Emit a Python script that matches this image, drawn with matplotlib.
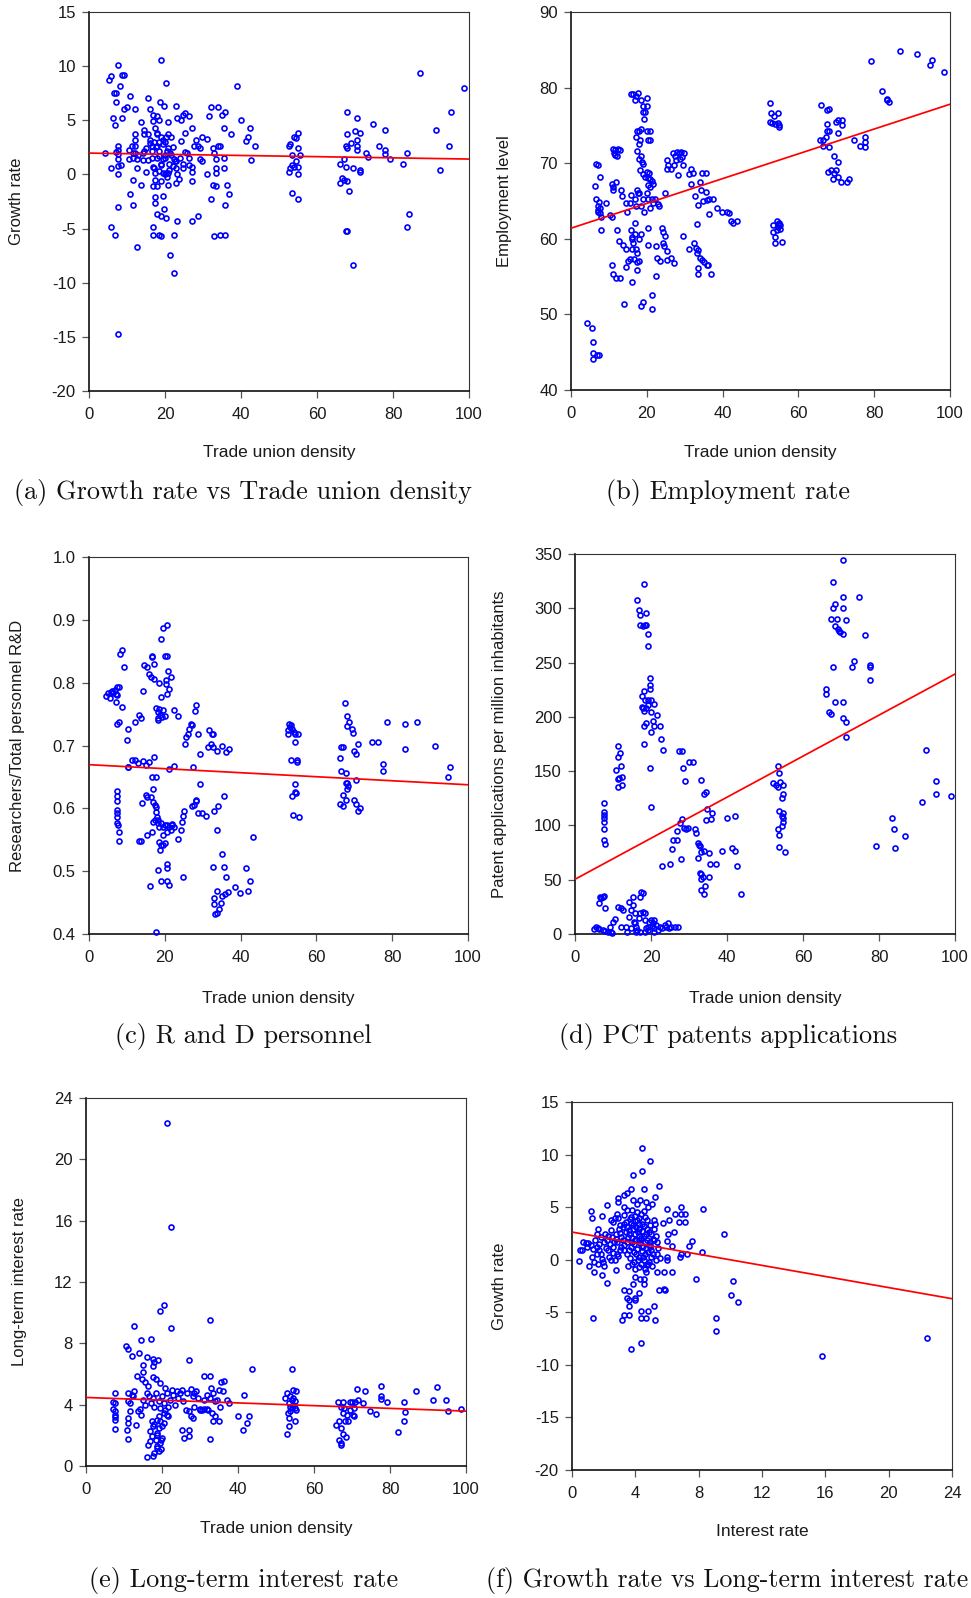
import numpy as np
import matplotlib
matplotlib.use("Agg")
import matplotlib.pyplot as plt

plt.rcParams['font.family'] = ['Liberation Sans', 'DejaVu Sans']
plt.rcParams['axes.unicode_minus'] = False

# ---------------- data ----------------
pts_a = [
(4.3,1.94),(5.2,8.7),(5.9,9.1),(7.7,10.1),(8.6,9.2),(9.2,9.2),(8.2,8.2),(6.5,7.5),(7.1,7.5),(7.1,6.7),(6.3,5.2),(6.8,4.6),(8.7,5.2),(9.1,6.0),(10.1,6.2),(10.7,7.2),(12.1,6.0),(5.8,0.6),(7.6,2.6),(7.6,2.3),(7.2,2.1),(7.7,1.9),(7.7,1.4),(7.7,0.06),(8.3,0.9),(7.6,0.8),(7.7,-3.0),(5.8,-4.9),(6.8,-5.6),(7.7,-14.7),(10.7,-1.8),(11.6,-0.5),(11.6,-2.8),(12.6,-6.7),(13.6,-1.0),
(10.6,1.4),(11.2,2.6),(11.6,2.0),(12.1,3.7),(12.1,3.2),(12.1,2.6),(12.6,0.6),(12.6,1.4),(13.6,4.8),(14.1,1.3),(14.1,2.0),(14.4,4.1),(14.4,3.7),(15.0,0.2),(15.5,7.1),(16.0,6.0),(15.0,2.4),(15.5,3.7),(16.0,3.2),(16.5,2.6),(16.9,5.5),(16.9,4.9),(17.3,4.3),(17.9,5.4),(17.9,3.7),(18.4,5.0),(18.9,10.6),(18.8,6.7),(19.8,6.3),(20.3,8.4),(20.9,4.8),(20.9,3.7),(21.7,3.5),(16.5,1.5),(16.9,0.7),(17.3,0.1),(17.4,-0.5),(16.9,-1.1),(17.9,-1.1),(17.4,-2.1),(17.4,-2.6),(19.4,-2.0),(17.9,-3.7),(18.9,-3.8),(19.8,-3.2),(20.3,-4.0),(16.9,-4.9),(16.9,-5.6),(18.4,-5.6),(18.9,-5.7),(22.3,-5.6),(21.3,-7.4),(22.3,-9.1),(23.2,-4.3),(27.2,-4.3),(28.7,-3.8),
(18.9,-0.6),(19.4,0.1),(19.9,0.0),(20.3,0.1),(20.9,0.1),(20.9,-1.0),(22.8,-0.8),(23.2,0.0),(23.8,-0.4),(22.8,0.6),(22.3,1.4),(21.3,2.0),(20.9,2.4),(19.9,1.8),(19.4,1.4),(18.4,1.7),(18.9,0.9),(17.9,2.6),(18.4,3.0),(19.4,3.2),(20.3,3.5),(22.8,6.3),(23.2,5.2),(24.1,5.0),(24.7,5.5),(25.2,5.7),(26.2,5.4),(27.2,4.3),(25.2,3.8),(24.1,3.1),(25.2,2.1),(25.7,2.0),(24.7,1.0),(24.7,0.6),(26.2,1.5),(26.2,0.9),(27.2,0.7),(27.2,0.2),(27.2,-0.6),(27.6,2.6),(28.2,3.2),(28.7,2.6),(29.1,2.4),(29.7,3.5),(29.2,1.4),(29.7,1.2),(31.0,3.3),(31.0,0.06),(31.5,5.4),(32.0,6.2),(32.5,2.4),(32.5,-1.0),(32.0,-2.3),(33.0,-5.7),(34.4,-5.6),(35.9,-5.6),(33.5,-1.1),(33.0,2.0),(33.5,1.4),(33.5,0.6),(33.5,0.1),(34.0,2.6),(34.4,2.6),(34.0,6.2),(35.0,5.5),(35.9,5.8),(35.4,4.3),(35.4,1.5),(35.5,0.6),(35.9,-2.8),(36.4,-1.0),(36.9,-1.8),(37.3,3.7),(38.9,8.2),(39.9,5.0),(41.3,3.1),(41.8,3.5),(42.3,4.3),(42.7,1.3),(43.8,2.6),
(52.5,0.2),(53.0,2.8),(52.7,2.6),(53.4,1.8),(53.4,0.9),(53.4,-1.7),(53.9,3.5),(54.4,3.4),(54.9,3.8),(54.9,2.4),(54.5,1.2),(54.9,0.7),(54.9,0.06),(54.9,-2.3),(55.5,1.8),(54.0,0.7),(53.0,0.6),
(66.0,1.0),(66.0,-0.8),(66.5,-0.3),(67.1,1.4),(67.5,2.6),(67.5,0.7),(67.1,-0.5),(68.0,-0.6),(68.0,3.7),(68.0,2.4),(68.0,5.8),(68.5,-1.5),(67.5,-5.2),(68.0,-5.2),(69.5,-8.4),(68.9,2.9),(69.5,0.6),(69.9,4.0),(70.4,5.2),(70.4,3.2),(70.4,2.6),(70.6,2.3),(71.4,3.8),(71.4,0.4),(71.4,0.2),
(72.9,2.0),(73.3,1.6),(74.8,4.7),(76.3,2.6),(77.8,4.1),(77.8,2.3),(77.8,1.9),(79.2,1.4),(82.7,1.0),(83.6,2.0),(83.6,-4.9),(84.1,-3.7),(87.0,9.4),(91.4,4.1),(92.4,0.4),(94.8,2.6),(95.2,5.8),(98.7,8.0),
(16.0,2.9),(16.5,2.2),(17.0,3.0),(17.5,2.5),(18.0,1.5),(18.5,2.2),(19.0,1.0),(19.5,2.8),(20.0,1.5),(20.5,2.2),(21.0,1.0),(21.5,1.8),(22.0,2.5),(22.5,1.2),(18.0,3.8),(19.0,3.5),(20.0,3.0),(15.5,1.3),(14.5,2.2),(13.0,1.8),(11.5,1.5),(10.5,2.3),(12.0,2.0),(21.0,0.4),(22.0,0.8),(23.0,1.2),(24.0,1.5),(17.0,0.6),(18.5,0.3),(20.5,-0.2)]

pts_b = [
(4.3,48.8),(5.5,48.2),(5.9,46.3),(5.9,44.9),(5.9,44.1),(6.8,44.6),(7.5,44.6),
(6.3,67.0),(6.6,69.9),(7.2,69.7),(7.7,68.2),(6.7,65.3),(7.3,64.9),(7.2,64.3),(7.7,64.1),(7.1,63.8),(7.7,63.4),(7.2,63.6),(8.0,62.9),(7.8,61.1),(9.3,64.8),
(10.3,63.2),(10.7,62.9),(10.8,67.3),(11.2,66.5),(11.2,66.8),(11.8,67.5),(11.1,71.9),(11.7,71.8),(12.3,71.9),(12.8,71.8),(11.5,71.1),(12.1,71.0),(11.4,71.3),
(10.7,56.5),(11.2,55.3),(12.0,54.8),(12.8,54.8),(12.2,61.1),(12.7,59.7),(13.6,59.2),(13.1,66.5),(13.5,65.6),(14.1,51.4),(14.5,56.3),(14.5,58.7),(14.7,63.6),(14.4,64.7),(15.6,64.7),(15.7,65.8),(15.1,57.0),(15.6,57.3),(15.7,61.1),(16.1,60.2),(16.1,58.7),(16.1,54.3),(16.4,59.4),(16.5,57.3),(16.1,60.0),(17.0,60.7),(17.0,62.1),(17.2,58.7),(17.5,58.1),(17.5,56.9),(17.5,55.9),(18.0,57.0),(17.2,64.3),(17.0,65.3),(17.5,66.5),(18.0,66.1),(17.9,60.0),(18.6,60.6),(19.0,51.7),(18.5,51.1),(21.4,50.7),(21.5,52.6),(22.3,55.1),(22.3,59.0),(22.8,57.5),(23.5,57.0),(20.4,61.4),(20.4,59.2),
(15.8,79.1),(16.4,79.1),(17.1,78.9),(17.7,79.3),(17.0,78.4),(18.6,78.4),(20.0,78.6),(19.0,77.6),(20.0,77.6),(19.0,76.8),(19.5,76.8),(19.3,75.9),
(17.5,74.3),(18.0,74.2),(18.6,74.5),(20.0,74.3),(20.9,74.3),(17.2,73.5),(17.9,72.6),(18.1,73.1),(20.4,73.1),(20.9,73.1),(17.5,71.6),(17.9,70.5),(18.6,70.9),(18.8,70.2),(19.1,69.9),
(18.2,69.1),(18.9,68.6),(19.5,68.2),(20.0,68.9),(20.7,68.7),(20.2,68.0),(20.9,67.9),(21.3,67.6),(21.6,67.3),(20.2,67.1),(20.9,66.9),(19.1,65.3),(20.0,66.1),(20.4,65.2),(21.4,65.3),(21.7,64.7),(22.2,65.2),(22.9,64.6),(23.1,64.3),(18.6,64.3),(17.8,66.0),(19.3,63.6),(20.9,64.1),
(24.8,66.0),(25.3,70.4),(25.7,69.7),(25.2,69.2),(26.3,69.2),(27.2,69.7),(28.2,68.5),(27.0,71.3),(27.5,70.9),(27.9,71.5),(28.5,71.4),(29.0,71.5),(29.8,71.3),(27.7,70.4),(28.8,70.5),(29.6,69.7),(29.3,70.8),
(23.9,61.4),(24.4,60.9),(24.8,60.4),(24.2,59.4),(24.5,59.0),(25.2,58.4),(26.3,57.4),(27.3,56.8),(25.2,57.2),(29.6,60.4),
(31.1,68.6),(31.6,69.2),(32.1,68.7),(31.7,67.2),(32.7,65.7),(33.6,64.5),(33.2,61.9),(34.0,67.5),(34.6,68.7),(35.6,68.7),(34.4,66.5),(35.6,66.2),(34.9,65.0),(36.0,65.1),(36.5,65.3),(36.5,63.3),(37.5,65.3),
(31.1,58.7),(32.5,59.4),(33.0,58.8),(33.6,58.5),(33.2,58.1),(34.0,57.5),(34.6,57.2),(35.2,56.9),(35.8,56.5),(36.2,56.5),(33.6,56.1),(33.6,55.3),(37.0,55.3),
(38.4,64.1),(39.8,63.6),(41.1,63.6),(41.8,63.4),(42.2,62.4),(42.8,62.1),(43.8,62.4),
(52.4,77.9),(52.9,76.7),(54.5,76.7),(53.5,76.2),(52.6,75.5),(53.0,75.3),(53.7,75.2),(54.7,75.3),(55.0,75.1),(55.0,74.8),
(53.4,61.8),(54.3,62.3),(54.7,62.0),(55.1,61.8),(53.4,60.9),(54.3,61.1),(55.1,61.3),(53.8,60.2),(53.8,59.4),(55.6,59.6),(54.7,61.6),(55.0,62.1),
(66.0,77.7),(67.5,77.0),(68.1,77.2),(67.5,75.2),(67.5,74.2),(68.1,74.3),(65.7,73.1),(66.6,73.1),(66.4,72.3),(67.2,73.5),(68.1,72.1),(69.4,70.9),(70.4,70.1),(67.8,68.9),(68.5,69.1),(69.0,67.9),(69.9,69.1),(69.5,68.7),(70.4,68.2),(71.3,67.5),(72.7,67.5),(73.4,67.9),(69.9,75.5),(70.4,75.7),(71.4,75.7),(71.4,75.0),(70.4,74.0),
(74.8,73.1),(76.3,72.3),(77.7,73.5),(77.7,72.8),(77.7,72.1),(79.2,83.5),(82.1,79.6),(83.5,78.5),(83.8,78.1),(83.5,78.3),(86.9,84.9),(91.3,84.4),(94.7,83.0),(95.2,83.7),(98.5,82.0)]

pts_c = [
(4.4,0.779),(5.1,0.784),(5.7,0.785),(5.5,0.776),(6.2,0.786),(6.4,0.784),(7.0,0.782),(7.5,0.781),(6.9,0.788),(7.8,0.793),(7.3,0.793),
(7.2,0.770),(8.8,0.761),(7.5,0.735),(7.9,0.738),(8.3,0.845),(8.8,0.852),(9.3,0.825),(10.4,0.726),(9.9,0.709),(10.3,0.665),
(7.4,0.627),(7.4,0.619),(7.4,0.611),(7.4,0.597),(7.4,0.592),(7.4,0.587),(7.4,0.576),(7.6,0.574),(7.9,0.563),(7.9,0.548),
(11.3,0.677),(12.2,0.677),(12.8,0.672),(14.3,0.675),(15.0,0.669),(15.7,0.673),(17.1,0.682),(10.2,0.665),
(12.2,0.738),(13.2,0.749),(13.8,0.743),(14.3,0.787),
(14.6,0.828),(15.3,0.825),(15.7,0.814),(16.3,0.809),(17.1,0.806),(16.7,0.841),(16.7,0.843),(17.1,0.830),(18.5,0.799),(19.0,0.777),(19.0,0.869),(19.6,0.887),(20.6,0.892),(20.0,0.843),(20.7,0.843),(20.9,0.819),(21.6,0.809),(20.2,0.804),(21.1,0.790),(20.5,0.782),(20.3,0.798),
(17.6,0.760),(18.1,0.754),(18.1,0.743),(18.8,0.749),(19.4,0.756),(20.0,0.747),(18.5,0.758),(19.2,0.746),(18.3,0.741),(22.5,0.756),(23.5,0.747),
(16.6,0.650),(17.6,0.650),(17.0,0.630),(14.1,0.609),(15.0,0.621),(15.4,0.618),(16.3,0.618),(16.9,0.610),(17.4,0.606),(17.6,0.602),(17.6,0.594),(17.9,0.586),(17.4,0.582),(18.3,0.581),(18.1,0.576),(17.0,0.579),(18.5,0.571),(18.9,0.576),(19.4,0.571),(20.1,0.574),(20.7,0.574),(21.1,0.571),(21.8,0.575),(22.5,0.571),(21.6,0.566),(20.7,0.563),(19.6,0.558),(24.4,0.566),(24.5,0.579),(24.7,0.588),(25.0,0.595),(23.5,0.551),(21.9,0.573),
(13.2,0.548),(13.8,0.548),(15.2,0.558),(16.6,0.563),(18.5,0.547),(18.9,0.542),(18.7,0.534),(19.4,0.542),(20.0,0.545),
(16.1,0.476),(18.1,0.502),(19.0,0.485),(20.5,0.511),(20.5,0.505),(20.7,0.485),(21.1,0.478),(24.8,0.490),(17.6,0.403),
(22.5,0.668),(21.1,0.662),
(25.2,0.703),(25.6,0.714),(26.0,0.719),(26.4,0.727),(26.9,0.735),(27.3,0.732),(27.9,0.755),(28.3,0.764),(27.5,0.666),(28.8,0.718),(29.3,0.686),(29.3,0.639),(27.3,0.603),(28.2,0.613),(28.7,0.592),(29.7,0.592),(30.8,0.588),(27.8,0.605),(28.3,0.611),
(31.7,0.725),(32.8,0.718),(32.4,0.718),(31.3,0.697),(32.2,0.703),(32.8,0.698),(33.7,0.691),(35.0,0.700),(36.1,0.689),(37.0,0.694),(35.7,0.619),(34.0,0.604),(33.1,0.595),(33.7,0.566),
(35.1,0.528),(32.7,0.507),(35.5,0.507),(36.1,0.490),(33.7,0.469),(33.0,0.458),(33.0,0.447),(33.3,0.432),(33.9,0.433),(34.2,0.439),(34.7,0.449),(35.2,0.460),(35.8,0.463),(36.7,0.467),
(38.4,0.475),(39.9,0.466),(41.4,0.505),(41.9,0.469),(42.4,0.484),(43.3,0.554),
(52.4,0.724),(52.9,0.735),(53.0,0.730),(53.6,0.727),(54.0,0.722),(54.3,0.718),(55.1,0.718),(52.5,0.718),(53.3,0.733),(54.4,0.706),(53.4,0.677),(54.9,0.677),(55.0,0.673),(54.4,0.639),(53.6,0.619),(54.3,0.626),(54.6,0.624),(53.9,0.590),(55.5,0.587),
(67.6,0.767),(68.0,0.747),(68.5,0.737),(68.1,0.731),(69.4,0.727),(69.6,0.720),(66.1,0.680),(66.5,0.697),(67.1,0.697),(66.5,0.659),(67.7,0.657),(67.1,0.621),(66.1,0.607),(67.1,0.603),(67.7,0.641),(68.0,0.640),(68.3,0.635),(68.1,0.630),(67.9,0.613),(70.0,0.613),(70.5,0.607),(71.4,0.601),(71.0,0.595),(70.5,0.645),(69.8,0.692),(70.5,0.686),(71.0,0.703),
(74.7,0.706),(76.2,0.706),(77.7,0.671),(77.7,0.659),(78.7,0.738),(83.5,0.735),(83.5,0.694),(86.5,0.738),(91.3,0.700),(94.7,0.650),(95.2,0.665)]

pts_d = [
(5.1,4.6),(5.5,6.1),(6.0,5.2),(6.4,4.3),(7.3,3.7),(8.0,2.8),(8.6,1.8),(9.5,2.2),(9.8,1.2),(9.1,6.1),(9.9,11.4),(10.4,13.5),(11.4,25.2),(12.1,23.7),(12.6,22.1),(12.1,6.1),(13.5,6.1),(13.6,2.2),(14.1,29.8),(14.3,16.0),(14.8,22.1),(15.2,26.7),(15.2,34.4),(15.4,11.4),(15.9,19.1),(16.1,6.8),(16.4,3.7),(16.8,14.4),(17.2,19.1),(17.4,39.0),(17.9,37.5),(17.2,34.4),(18.3,19.7),(18.5,12.9),(18.7,5.2),(19.2,3.7),(19.6,11.4),(20.1,12.9),(20.5,9.8),(20.9,5.2),(21.4,8.3),(21.8,3.7),(22.3,6.8),(23.0,5.2),(23.6,8.3),(24.0,6.8),(24.5,9.8),(24.7,5.2),(25.3,6.1),(26.2,6.8),(27.1,6.8),(6.4,28.3),(6.9,32.9),(7.3,34.4),(7.7,35.3),(8.0,23.7),(20.7,12.9),(16.1,2.2),(17.0,2.2),(18.5,2.2),(20.9,2.2),(15.7,9.8),(14.8,5.2),(17.9,20.6),(19.3,6.8),(20.2,7.4),(6.6,34.4),
(7.5,120.5),(7.5,112.8),(7.5,109.7),(7.5,106.6),(7.5,103.6),(7.5,96.5),(7.5,86.7),(8.0,83.0),
(11.4,173.3),(11.3,162.6),(11.9,166.6),(12.0,154.3),(10.8,151.2),(11.3,142.6),(11.7,143.5),(12.4,144.4),(11.3,135.8),(12.4,137.4),
(16.3,307.3),(16.8,298.7),(17.2,293.5),(17.1,284.9),(17.9,283.4),(18.3,284.9),(18.7,284.9),(18.2,322.7),(18.7,295.7),(19.3,276.6),(19.3,264.9),
(19.7,236.0),(19.8,229.5),(19.8,225.6),(18.1,224.1),(17.7,218.8),(18.4,215.7),(19.2,215.7),(20.0,215.7),(17.8,208.6),(18.7,208.6),(20.0,204.9),(20.7,211.9),(21.6,201.9),(18.1,191.8),(18.7,194.2),(20.5,195.8),(20.7,191.2),(22.3,191.8),(20.1,186.5),(22.6,179.8),(23.1,169.6),(18.2,174.9),(19.7,152.7),(20.1,116.8),(17.5,209.2),(18.2,205.2),(19.2,211.3),
(23.0,62.7),(25.1,64.2),(25.6,78.1),(25.9,86.7),(26.9,86.7),(28.0,69.5),(26.9,95.0),(27.5,102.0),(28.1,105.7),(28.6,98.0),(29.1,97.0),(29.7,98.0),(27.4,168.1),(28.1,168.1),(28.4,152.7),(28.9,141.1),(29.9,158.0),(31.0,158.0),(31.5,96.8),(31.9,92.8),(32.4,69.8),(32.4,83.6),(32.6,82.1),(32.8,81.1),(33.2,75.9),(33.9,76.5),(35.3,75.0),(33.2,141.4),(33.9,129.1),(34.4,130.6),(34.8,115.2),(34.6,105.1),(35.7,105.7),(36.1,111.9),(32.8,56.5),(33.2,55.3),(33.7,52.9),(35.3,52.9),(33.2,50.4),(34.1,44.3),(33.2,40.6),(33.9,36.9),(35.4,64.2),(37.2,64.2),(38.7,76.5),(40.1,106.6),(41.2,79.6),(42.1,76.5),(42.1,108.8),(42.6,62.7),(43.6,36.9),
(53.3,154.3),(53.7,148.7),(52.2,138.9),(52.8,137.4),(53.3,135.8),(53.9,140.4),(54.8,137.4),(54.8,128.8),(54.4,125.1),(53.7,113.7),(54.8,111.9),(54.4,108.8),(54.8,106.6),(54.8,103.6),(54.4,99.6),(53.3,96.5),(53.7,91.3),(53.7,79.9),(55.2,75.9),
(70.4,344.8),(67.8,324.2),(70.4,310.7),(74.8,310.7),(67.8,300.2),(68.4,304.2),(70.4,300.6),(67.3,290.4),(68.9,290.4),(71.3,288.9),(68.4,283.3),(69.1,280.9),(69.5,279.4),(69.8,277.8),(70.4,276.6),(76.2,275.1),(67.8,246.2),(72.8,246.2),(73.4,251.1),(77.5,248.0),(77.5,245.9),(77.5,234.2),(66.0,225.6),(66.0,220.7),(68.4,213.9),(70.4,213.9),(66.8,204.1),(67.3,202.2),(70.4,198.5),(71.3,195.1),(71.3,181.6),
(79.2,81.1),(83.5,106.9),(83.9,96.8),(84.3,79.6),(86.9,90.0),(91.2,122.0),(92.3,169.6),(95.1,140.7),(95.1,128.8),(98.9,127.2)]

pts_e = [
(21.4,22.4),(22.3,15.6),(19.4,10.1),(20.4,10.5),(22.3,9.0),(32.5,9.5),(12.6,9.1),(14.6,8.2),(17.0,8.3),(10.6,7.8),(11.1,7.6),(12.1,7.2),(14.0,7.4),(16.1,7.1),(17.5,7.0),(19.0,6.9),(18.0,6.8),(17.5,6.5),(15.1,6.6),(27.2,6.9),(13.5,5.9),(15.1,6.1),(14.7,5.7),(17.5,5.8),(18.4,5.7),(15.5,5.5),(19.5,5.4),(31.1,5.9),(32.5,5.9),(43.7,6.3),(54.3,6.3),
(7.7,4.75),(7.0,4.17),(7.7,4.10),(7.0,3.73),(7.7,3.56),(7.7,3.34),(7.7,3.17),(7.7,2.97),(7.7,2.43),
(11.1,4.75),(12.0,4.60),(11.1,4.21),(11.6,4.10),(11.1,3.13),(11.1,2.80),(10.7,2.32),(11.1,1.74),(11.7,3.56),(12.3,4.54),(13.1,2.65),(12.6,4.86),(13.6,3.60),(14.6,3.34),(14.1,3.73),
(15.1,4.32),(15.5,3.99),(16.0,4.75),(16.4,5.19),(16.7,4.54),(17.0,4.10),(17.5,4.43),(17.9,3.88),(18.4,4.75),(19.1,4.21),(19.5,3.78),(19.9,4.54),(20.4,4.10),(20.8,5.08),(21.3,4.75),(21.7,3.88),(22.1,4.32),(22.6,4.97),(23.0,4.64),(23.4,3.99),(23.9,4.86),(24.3,4.43),(24.8,4.75),(25.2,4.97),(25.6,4.21),(26.2,3.62),(26.5,4.75),(27.0,3.60),(27.6,5.01),(28.1,4.54),(28.4,4.75),(29.0,4.86),(29.5,4.43),(30.0,3.67),(30.6,3.67),(31.1,4.32),(31.8,4.64),(32.2,3.67),(32.7,4.43),(33.0,5.08),(33.5,4.75),(34.0,4.21),(34.4,4.32),(34.9,4.97),(35.3,3.88),(36.0,4.86),(35.5,5.45),(36.2,5.56),(37.1,4.32),(37.6,4.10),
(16.1,0.56),(16.4,1.39),(16.9,1.61),(17.3,1.93),(17.7,0.67),(18.0,0.85),(18.3,1.71),(18.6,1.28),(18.8,1.17),(19.1,0.95),(19.5,1.50),(19.8,1.13),(20.1,1.82),(18.6,2.15),(19.1,2.47),(19.5,2.91),(17.3,2.91),(17.9,2.76),(18.6,3.02),(19.1,3.23),(19.9,2.58),(20.4,3.45),(20.8,3.67),(21.3,3.34),(21.7,3.23),(20.4,2.80),(16.9,2.26),(17.7,2.58),(18.8,2.04),(19.8,1.71),
(25.2,2.32),(25.7,1.84),(27.2,2.32),(27.2,1.93),(27.7,3.23),(28.1,3.13),(32.5,1.74),(33.5,2.91),(34.9,2.91),(31.1,3.73),(31.8,3.73),(29.9,3.73),(33.1,3.45),(34.0,3.28),(28.4,3.88),
(39.9,3.23),(41.3,2.32),(42.3,2.80),(42.8,3.23),(41.7,4.64),
(52.4,4.43),(53.0,4.75),(53.4,4.10),(53.7,4.54),(54.2,4.32),(54.6,4.43),(55.1,4.21),(54.4,3.99),(54.9,3.78),(55.2,3.67),(53.7,3.56),(53.2,3.45),(53.5,3.13),(53.4,2.58),(52.9,2.08),(54.9,2.91),(54.6,4.97),(55.2,4.86),(54.2,3.78),(53.7,3.88),
(66.2,4.17),(67.6,4.17),(67.0,3.88),(67.6,3.45),(68.0,3.78),(66.6,2.91),(65.9,2.65),(67.1,2.47),(66.5,1.71),(67.0,1.50),(67.1,1.35),(67.6,2.08),(68.5,1.87),(68.1,2.91),(69.0,2.91),(68.7,3.30),(69.4,4.17),(70.0,4.17),(70.7,4.17),(70.4,3.78),(70.2,3.34),(70.4,3.23),(71.3,5.01),(71.5,4.32),(69.5,3.67),(72.9,4.10),
(73.4,4.86),(74.8,3.60),(76.2,3.39),(77.7,5.23),(77.7,4.54),(77.7,4.38),(79.2,4.17),(82.1,2.19),(83.6,4.17),(83.6,2.91),(84.0,3.49),(86.9,4.86),(91.3,4.32),(92.4,5.12),(94.7,4.32),(95.2,3.60),(98.6,3.73)]

pts_f = [
(4.45,10.58),(4.90,9.41),(4.43,8.39),(3.84,8.01),(5.49,7.00),(3.74,6.68),(4.56,6.68),(5.26,5.99),(2.91,5.86),(2.91,5.48),(3.27,6.18),(3.48,6.34),(3.27,5.0),(2.22,5.16),(1.18,4.62),(1.29,3.93),(1.88,4.15),(2.83,4.31),(2.72,3.93),(2.93,3.93),(2.47,3.74),(2.58,3.58),(5.97,4.78),(6.88,5.0),(6.52,4.31),(6.88,4.31),(7.16,4.31),(6.73,3.58),(7.16,3.58),(8.30,4.78),(5.15,3.80),(5.26,3.42),(5.72,3.48),(6.10,3.80),(6.44,2.60),(6.06,2.44),(9.58,2.44),(7.60,1.74),(7.37,1.27),(6.31,1.27),(5.97,1.74),(8.19,0.73),(7.26,0.54),(6.80,0.25),(6.88,0.51),(5.97,0.25),(5.97,0.0),(5.38,0.54),
(0.46,-0.13),(1.06,-0.60),(1.41,-1.14),(1.88,-1.49),(2.22,-2.19),(2.81,-1.01),(1.31,-5.57),(5.38,-1.14),(5.83,-1.14),(6.31,-1.14),(7.83,-1.84),(10.15,-2.0),(4.66,-1.14),(4.54,-1.84),(4.31,-1.84),(4.56,-2.34),(3.97,-1.65),(3.84,-2.34),(4.20,-3.17),(3.27,-2.85),(3.61,-3.01),(3.48,-3.64),(3.61,-3.86),(3.95,-3.86),(4.01,-3.64),(3.61,-4.37),(5.49,-2.85),(5.83,-2.76),(5.85,-2.85),(5.15,-4.37),(4.81,-4.88),(4.33,-4.88),(3.27,-5.23),(3.61,-5.23),(3.17,-5.73),(4.33,-5.57),(4.69,-5.57),(5.26,-5.73),(3.74,-8.46),(4.33,-7.95),(10.03,-3.36),(10.51,-4.05),(9.10,-5.57),(9.10,-6.75),(15.77,-9.15),(22.42,-7.44),
(0.61,0.89),(0.72,1.68),(0.89,1.58),(1.03,1.58),(1.20,1.36),(1.35,1.05),(1.46,1.84),(1.56,2.47),(1.67,2.95),(1.73,1.52),(1.82,0.57),(1.90,0.10),(1.98,-0.22),(2.09,2.47),(2.20,1.84),(2.28,0.89),(2.36,0.25),(2.45,2.79),(2.53,2.15),(2.62,1.20),(2.70,-0.06),(2.79,2.47),(2.87,1.68),(2.96,2.95),(3.04,0.89),(3.12,2.15),(3.21,3.10),(3.29,1.36),(3.38,3.58),(3.46,0.57),(3.55,2.15),(3.63,2.79),(3.72,4.05),(3.80,1.68),(3.88,3.26),(3.93,0.73),(4.01,2.47),(4.10,3.74),(4.14,-0.06),(4.20,1.84),(4.26,2.95),(4.33,4.37),(4.39,1.20),(4.43,3.42),(4.47,0.25),(4.52,2.28),(4.60,4.05),(4.64,1.68),(4.73,2.95),(4.77,-0.38),(4.83,5.0),(4.90,1.20),(4.98,2.47),(5.04,5.32),(5.11,0.57),(5.19,1.84),(5.28,-0.06),(5.36,1.68),(3.84,5.64),(4.10,5.32),(4.31,5.64),(4.66,5.48),(3.46,4.69),(3.78,4.69),(4.10,4.53),(3.04,3.26),(3.29,3.42),(2.66,1.68),(2.83,0.57),(3.57,0.89),(3.78,-0.38),(4.0,-0.86),(4.26,-0.70),(4.52,-0.06),(4.73,-0.54),(4.98,0.25),(1.25,0.25),(1.41,-0.22),(1.67,-0.44),(2.03,-0.63),(2.45,-0.06),(1.56,0.57),(0.93,1.20),(0.51,0.89),
(3.65,3.9),(3.75,3.5),(3.85,2.9),(3.95,3.7),(4.05,3.1),(4.15,2.6),(4.25,3.4),(4.35,2.1),(4.45,2.7),(4.55,3.2),(4.65,2.4),(4.75,1.9),(4.85,2.6),(4.95,1.4),(3.6,2.4),(3.7,1.2),(3.8,2.1),(3.9,1.5),(4.0,1.9),(4.1,1.0),(4.2,2.3),(4.3,1.6),(4.4,0.8),(4.5,1.3),(4.6,0.5),(4.7,1.1),(4.8,0.7),(4.9,1.7),(5.0,0.9),(5.1,2.0),(3.5,1.7),(3.4,2.6),(3.3,0.9),(3.2,1.9),(3.1,1.2),(3.0,2.5),(2.9,0.4),(2.75,2.0),(2.6,0.6),(2.4,1.5),(2.3,2.3),(2.15,1.1),(2.0,1.7),(1.85,2.2),(1.7,0.9),(1.6,1.2),(3.65,0.2),(3.9,-0.2),(4.2,0.3),(4.35,-0.4),(4.6,-0.9),(4.85,-0.2),(5.05,-0.6),(3.55,-0.6),(4.05,0.5),(3.95,4.2),(4.25,4.0),(4.55,4.6),(4.75,3.8),(4.95,3.3),(5.2,2.9),(5.3,2.3),(5.45,1.1),(5.55,0.2),(3.45,3.1),(3.3,4.3)]

# fitted lines: (intercept, slope)
fit_a = (1.97, -0.0055)
fit_b = (61.4, 0.164)
fit_c = (0.6695, -0.00032)
fit_d = (50.4, 1.89)
fit_e = (4.47, -0.0089)
fit_f = (2.63, -0.264)

xlabels = ["Trade union density"] * 5 + ["Interest rate"]
ylabels = ["Growth rate", "Employment level", "Researchers/Total personnel R&D",
           "Patent applications per million inhabitants", "Long-term interest rate", "Growth rate"]
captions = ["(a) Growth rate vs Trade union density", "(b) Employment rate",
            "(c) R and D personnel", "(d) PCT patents applications",
            "(e) Long-term interest rate", "(f) Growth rate vs Long-term interest rate"]

# ---------------- layout ----------------
W, H = 971, 1598
fig = plt.figure(figsize=(W / 100, H / 100), dpi=100)

# (left, top, right, bottom) in pixels
boxes = [(89, 12, 469, 391), (571, 12, 950, 390),
         (89, 557, 468, 934), (575, 554, 955, 934),
         (86, 1098, 466, 1466), (572, 1102, 952, 1470)]
ylab_x = [17, 505, 18, 499, 20, 500]
xlab_y = [453, 453, 998, 998, 1528, 1531]
cap_y = [493, 493, 1037, 1037, 1581, 1581]
cap_x = [243, 728, 243, 728, 244, 727]
cap_size = [18.9, 18.9, 18.9, 18.9, 18.9, 18.6]

panels = [
    (pts_a, fit_a, (0, 100), (-20, 15), np.arange(0, 101, 20), np.arange(-20, 16, 5), "{:.0f}"),
    (pts_b, fit_b, (0, 100), (40, 90), np.arange(0, 101, 20), np.arange(40, 91, 10), "{:.0f}"),
    (pts_c, fit_c, (0, 100), (0.4, 1.0), np.arange(0, 101, 20), np.arange(0.4, 1.01, 0.1), "{:.1f}"),
    (pts_d, fit_d, (0, 100), (0, 350), np.arange(0, 101, 20), np.arange(0, 351, 50), "{:.0f}"),
    (pts_e, fit_e, (0, 100), (0, 24), np.arange(0, 101, 20), np.arange(0, 25, 4), "{:.0f}"),
    (pts_f, fit_f, (0, 24), (-20, 15), np.arange(0, 25, 4), np.arange(-20, 16, 5), "{:.0f}"),
]

txt_col = "#1a1a1a"
for i, (pts, fit, xl, yl, xt, yt, fmt) in enumerate(panels):
    l, t, r, b = boxes[i]
    ax = fig.add_axes([l / W, 1 - b / H, (r - l) / W, (b - t) / H])
    arr = np.array(pts)
    ax.plot(arr[:, 0], arr[:, 1], 'o', mfc='none', mec='#0000ff', ms=3.6, mew=1.2,
            linestyle='none', clip_on=False, zorder=3)
    xs = np.array(xl, dtype=float)
    ax.plot(xs, fit[0] + fit[1] * xs, color='#ff0000', lw=1.25, zorder=4)
    ax.set_xlim(*xl)
    ax.set_ylim(*yl)
    ax.set_xticks(xt)
    ax.set_yticks(yt)
    ax.set_yticklabels([fmt.format(v) for v in yt])
    ax.set_xticklabels(["{:.0f}".format(v) for v in xt])
    ax.tick_params(direction='out', length=5, width=0.9, color='#555555',
                   labelcolor=txt_col, labelsize=12)
    ax.tick_params(axis='x', pad=6.5)
    ax.tick_params(axis='y', pad=4.5)
    for s in ['left', 'bottom']:
        ax.spines[s].set_linewidth(1.2)
        ax.spines[s].set_color('#111111')
    for s in ['top', 'right']:
        ax.spines[s].set_linewidth(0.8)
        ax.spines[s].set_color('#333333')
    ax.set_ylabel(ylabels[i], fontsize=12, color=txt_col)
    ax.yaxis.set_label_coords((ylab_x[i] - l) / (r - l), 0.5)
    ax.set_xlabel(xlabels[i], fontsize=12.5, color=txt_col)
    ax.xaxis.set_label_coords(0.5, -(xlab_y[i] - b) / (b - t))
    ax.xaxis.label.set_va('center')
    ax.yaxis.label.set_va('center')
    fig.text(cap_x[i] / W, 1 - cap_y[i] / H, captions[i], family='cmr10',
             fontsize=cap_size[i], ha='center', va='center', color='#111111')

fig.savefig("out.png", dpi=100)
